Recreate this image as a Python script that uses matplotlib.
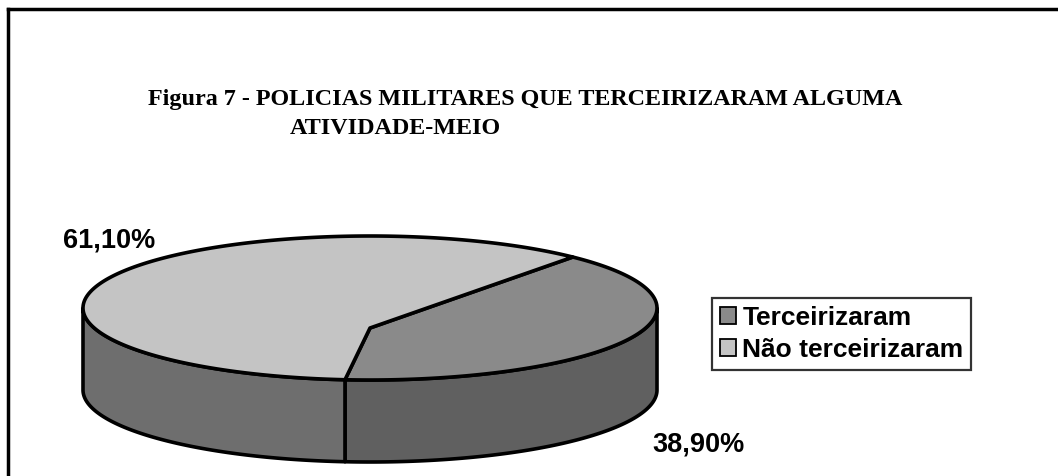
import numpy as np
import matplotlib
matplotlib.use("Agg")
import matplotlib.pyplot as plt
from matplotlib.patches import Polygon, Patch
from matplotlib.lines import Line2D

# ---- data ----
categories = ["Terceirizaram", "Não terceirizaram"]
values = [38.9, 61.1]
value_labels = ["38,90%", "61,10%"]
title_lines = ["Figura 7 - POLICIAS MILITARES QUE TERCEIRIZARAM ALGUMA", "ATIVIDADE-MEIO"]

# ---- styling / layout ----
top_colors = ["#8a8a8a", "#c4c4c4"]
side_colors = ["#606060", "#6e6e6e"]
W, H = 1058, 476
cx, cy, a, b, depth = 370, 308, 287, 72, 82
start_deg = -95.0  # start angle of first slice (front)

fig = plt.figure(figsize=(W / 100, H / 100), dpi=100)
ax = fig.add_axes([0, 0, 1, 1])
ax.set_xlim(0, W)
ax.set_ylim(H, 0)
ax.axis("off")

def pt(t, dz=0.0):
    return cx + a * np.cos(t), cy - b * np.sin(t) + dz

total = sum(values)
angles = []
cur = start_deg
for v in values:
    span = v / total * 360.0
    angles.append((cur, cur + span))
    cur += span

# sides (visible front half)
for (t0, t1), sc in zip(angles, side_colors):
    ts = np.radians(np.linspace(t0, t1, 400))
    vis = ts[np.sin(ts) <= 1e-9]
    if len(vis) < 2:
        continue
    segs = np.split(vis, np.where(np.diff(vis) > 0.05)[0] + 1)
    for s in segs:
        if len(s) < 2:
            continue
        xt, yt = pt(s)
        xb, yb = pt(s[::-1], depth)
        poly = np.column_stack([np.concatenate([xt, xb]), np.concatenate([yt, yb])])
        ax.add_patch(Polygon(poly, closed=True, facecolor=sc, edgecolor="black", lw=2.6, joinstyle="round"))

# tops
for (t0, t1), tc in zip(angles, top_colors):
    ts = np.radians(np.linspace(t0, t1, 400))
    xt, yt = pt(ts)
    poly = np.column_stack([np.concatenate([[cx], xt]), np.concatenate([[cy + 20], yt])])
    ax.add_patch(Polygon(poly, closed=True, facecolor=tc, edgecolor="black", lw=2.6, joinstyle="round"))

# labels
lab_font = dict(family="Liberation Sans", weight="bold", fontsize=19.5)
ax.text(63, 240, value_labels[1], ha="left", va="center", **lab_font)
ax.text(652, 444, value_labels[0], ha="left", va="center", **lab_font)

# title
tfont = dict(family="Liberation Serif", weight="bold", fontsize=17.4)
ax.text(148, 100, title_lines[0], ha="left", va="center", **tfont)
ax.text(290, 128, title_lines[1], ha="left", va="center", **tfont)

# legend
handles = [Patch(facecolor=c, edgecolor="black", lw=1.3) for c in top_colors]
leg = ax.legend(handles, categories, loc="upper left", bbox_to_anchor=(712 / W, 1 - 298 / H),
                bbox_transform=fig.transFigure, frameon=True, fancybox=False,
                prop={"family": "Liberation Sans", "weight": "bold", "size": 19.0},
                handlelength=0.6, handleheight=0.6, handletextpad=0.25,
                borderpad=0.3, labelspacing=0.3, borderaxespad=0)
leg.get_frame().set_edgecolor("black")
leg.get_frame().set_linewidth(1.6)

# outer frame (top and left only)
fig.add_artist(Line2D([8 / W, 1], [1 - 9 / H, 1 - 9 / H], color="black", lw=2.5, transform=fig.transFigure))
fig.add_artist(Line2D([8 / W, 8 / W], [0, 1 - 9 / H], color="black", lw=2.5, transform=fig.transFigure))

fig.savefig("out.png", dpi=100, facecolor="white")
